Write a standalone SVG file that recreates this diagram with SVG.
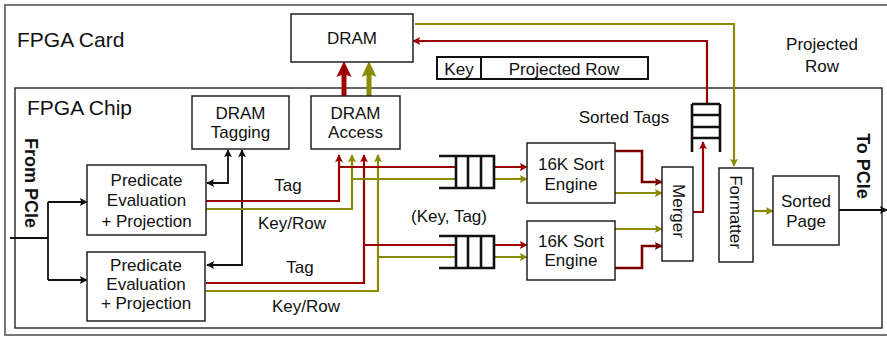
<svg xmlns="http://www.w3.org/2000/svg" width="887" height="337" viewBox="0 0 887 337">
  <style>
    .box { fill: #fff; stroke: #222; stroke-width: 1.5; }
    .t { font-family: "Liberation Sans", Arial, sans-serif; font-size: 17px; fill: #111; text-anchor: middle; }
    .big { font-family: "Liberation Sans", Arial, sans-serif; font-size: 21px; fill: #111; }
    .bold { font-family: "Liberation Sans", Arial, sans-serif; font-size: 18px; font-weight: bold; fill: #111; text-anchor: middle; }
    .k { fill: none; stroke: #111; stroke-width: 1.8; }
    .r { fill: none; stroke: #9b0000; stroke-width: 2.2; }
    .rd { fill: none; stroke: #7d0000; stroke-width: 2.6; }
    .o { fill: none; stroke: #8b8b00; stroke-width: 2.2; }
    .fifo { fill: none; stroke: #111; stroke-width: 2.6; }
  </style>
  <defs>
    <marker id="ak" viewBox="0 0 10 10" refX="9" refY="5" markerWidth="9" markerHeight="8" markerUnits="userSpaceOnUse" orient="auto-start-reverse">
      <path d="M0,0 L10,5 L0,10 L2,5 z" fill="#111"/>
    </marker>
    <marker id="ar" viewBox="0 0 10 10" refX="9" refY="5" markerWidth="9" markerHeight="8" markerUnits="userSpaceOnUse" orient="auto">
      <path d="M0,0 L10,5 L0,10 L2,5 z" fill="#9b0000"/>
    </marker>
    <marker id="ard" viewBox="0 0 10 10" refX="9" refY="5" markerWidth="9" markerHeight="8" markerUnits="userSpaceOnUse" orient="auto">
      <path d="M0,0 L10,5 L0,10 L2,5 z" fill="#7d0000"/>
    </marker>
    <marker id="ao" viewBox="0 0 10 10" refX="9" refY="5" markerWidth="9" markerHeight="8" markerUnits="userSpaceOnUse" orient="auto">
      <path d="M0,0 L10,5 L0,10 L2,5 z" fill="#8b8b00"/>
    </marker>
  </defs>

  <!-- enclosing frames -->
  <g id="fpga-card">
    <rect x="5" y="5" width="900" height="330" fill="#fff" stroke="#777" stroke-width="2"/>
    <text class="big" x="17" y="47">FPGA Card</text>
  </g>
  <g id="fpga-chip">
    <rect x="15" y="88" width="867" height="240" fill="#fff" stroke="#333" stroke-width="1.5"/>
    <text class="big" x="27" y="115">FPGA Chip</text>
  </g>

  <!-- connectors -->
  <g id="connectors">
    <!-- PCIe input fan-out -->
    <path class="k" d="M10,238 H48 M48,202 V280"/>
    <path class="k" d="M48,202 H87" marker-end="url(#ak)"/>
    <path class="k" d="M48,280 H87" marker-end="url(#ak)"/>
    <!-- DRAM tagging links -->
    <path class="k" d="M207,183 H228 V150" marker-start="url(#ak)" marker-end="url(#ak)"/>
    <path class="k" d="M207,265 H242 V150" marker-start="url(#ak)" marker-end="url(#ak)"/>

    <!-- upper predicate outputs -->
    <path class="r" d="M206,201 H339 V155" marker-end="url(#ar)"/>
    <path class="o" d="M204,209 H352 V155" marker-end="url(#ao)"/>
    <!-- lower predicate outputs -->
    <path class="r" d="M206,283 H364 V155" marker-end="url(#ar)"/>
    <path class="o" d="M206,291 H378 V155" marker-end="url(#ao)"/>

    <!-- into sort engines through queues -->
    <path class="r" d="M340,167 H527" marker-end="url(#ar)"/>
    <path class="o" d="M352,179 H527" marker-end="url(#ao)"/>
    <path class="r" d="M365,245 H527" marker-end="url(#ar)"/>
    <path class="o" d="M378,257 H527" marker-end="url(#ao)"/>

    <!-- sort engines to merger -->
    <path class="rd" d="M615,151 H642 V182 H662" marker-end="url(#ard)"/>
    <path class="o" d="M615,193 H662" marker-end="url(#ao)"/>
    <path class="o" d="M615,229 H662" marker-end="url(#ao)"/>
    <path class="rd" d="M615,268 H642 V246 H662" marker-end="url(#ard)"/>

    <!-- merger to sorted tags -->
    <path class="r" d="M693,212 H703 V142" marker-end="url(#ar)"/>
    <!-- sorted tags back to DRAM -->
    <path class="r" d="M707,104 V41 H413" marker-end="url(#ar)"/>
    <!-- DRAM rows to formatter -->
    <path class="o" d="M415,24 H734 V166" marker-end="url(#ao)"/>
    <!-- formatter to sorted page -->
    <path class="o" d="M754,211 H773" marker-end="url(#ao)"/>
    <!-- out to PCIe -->
    <path class="k" d="M839,210 H887" marker-end="url(#ak)"/>

    <!-- wide DRAM access buses -->
    <path d="M344,96 V74" stroke="#a00000" stroke-width="5" fill="none"/>
    <path d="M336.5,77 L344,61 L351.5,77 L344,74 z" fill="#a00000"/>
    <path d="M369,96 V74" stroke="#8b8b00" stroke-width="5" fill="none"/>
    <path d="M361.5,77 L369,61 L376.5,77 L369,74 z" fill="#8b8b00"/>
  </g>

  <!-- blocks -->
  <g id="dram">
    <rect class="box" x="291" y="14" width="122" height="48"/>
    <text class="t" x="352" y="44">DRAM</text>
  </g>
  <g id="record-format">
    <rect x="437" y="57" width="44" height="22" fill="#fff" stroke="#111" stroke-width="2"/>
    <rect x="481" y="57" width="167" height="22" fill="#fff" stroke="#111" stroke-width="2"/>
    <text class="t" x="459" y="75">Key</text>
    <text class="t" x="564" y="75">Projected Row</text>
  </g>
  <g id="projected-row-label">
    <text class="t" x="822" y="50">Projected</text>
    <text class="t" x="822" y="72">Row</text>
  </g>
  <g id="dram-tagging">
    <rect class="box" x="192" y="96" width="97" height="53"/>
    <text class="t" x="240.5" y="119">DRAM</text>
    <text class="t" x="240.5" y="138">Tagging</text>
  </g>
  <g id="dram-access">
    <rect class="box" x="311" y="96" width="89" height="53"/>
    <text class="t" x="355.5" y="119">DRAM</text>
    <text class="t" x="355.5" y="138">Access</text>
  </g>
  <g id="from-pcie">
    <text class="bold" transform="translate(25,183) rotate(90)">From PCIe</text>
  </g>
  <g id="to-pcie">
    <text class="bold" transform="translate(857,166) rotate(90)">To PCIe</text>
  </g>
  <g id="predicate-1">
    <rect class="box" x="87" y="165" width="119" height="70"/>
    <text class="t" x="146.5" y="186">Predicate</text>
    <text class="t" x="146.5" y="206">Evaluation</text>
    <text class="t" x="146.5" y="227">+ Projection</text>
  </g>
  <g id="predicate-2">
    <rect class="box" x="87" y="252" width="118" height="69"/>
    <text class="t" x="146" y="271">Predicate</text>
    <text class="t" x="146" y="290">Evaluation</text>
    <text class="t" x="146" y="309">+ Projection</text>
  </g>
  <g id="link-labels">
    <text class="t" x="288" y="191">Tag</text>
    <text class="t" x="292" y="229">Key/Row</text>
    <text class="t" x="300" y="273">Tag</text>
    <text class="t" x="306" y="312">Key/Row</text>
    <text class="t" x="449" y="222">(Key, Tag)</text>
  </g>
  <g id="queue-1">
    <rect x="456" y="156" width="38" height="32" fill="#fff"/>
    <path class="fifo" d="M439,156 H494 M439,188 H494 M456,156 V188 M468,156 V188 M481,156 V188 M494,154.7 V189.3"/>
  </g>
  <g id="queue-2">
    <rect x="456" y="236" width="38" height="32" fill="#fff"/>
    <path class="fifo" d="M439,236 H494 M439,268 H494 M456,236 V268 M468,236 V268 M481,236 V268 M494,234.7 V269.3"/>
  </g>
  <g id="sort-engine-1">
    <rect class="box" x="527" y="143" width="88" height="60"/>
    <text class="t" x="571" y="170">16K Sort</text>
    <text class="t" x="571" y="190">Engine</text>
  </g>
  <g id="sort-engine-2">
    <rect class="box" x="527" y="221" width="88" height="59"/>
    <text class="t" x="571" y="247">16K Sort</text>
    <text class="t" x="571" y="266">Engine</text>
  </g>
  <g id="merger">
    <rect class="box" x="662" y="167" width="31" height="94"/>
    <text class="t" transform="translate(673,211) rotate(90)">Merger</text>
  </g>
  <g id="sorted-tags">
    <text class="t" x="624" y="123">Sorted Tags</text>
    <path class="fifo" d="M692,104 V152 M720,104 V152 M692,104 H720 M692,115 H720 M692,127 H720 M692,138 H720"/>
  </g>
  <g id="formatter">
    <rect class="box" x="719" y="168" width="34" height="94"/>
    <text class="t" transform="translate(730,212) rotate(90)">Formatter</text>
  </g>
  <g id="sorted-page">
    <rect class="box" x="773" y="176" width="66" height="69"/>
    <text class="t" x="806" y="207">Sorted</text>
    <text class="t" x="806" y="227">Page</text>
  </g>
</svg>
